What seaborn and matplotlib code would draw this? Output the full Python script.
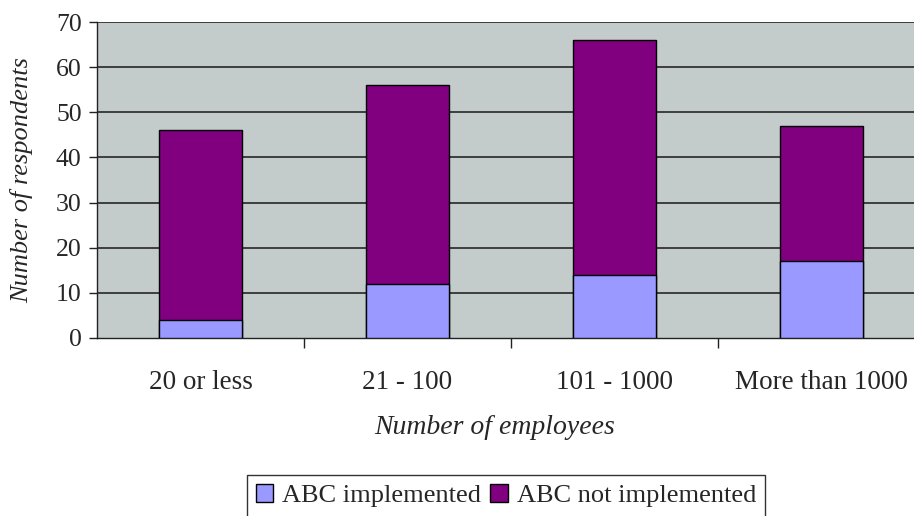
import matplotlib
matplotlib.use("Agg")
import matplotlib.pyplot as plt
from matplotlib.patches import Patch
import seaborn as sns
import pandas as pd

categories = ["20 or less", "21 - 100", "101 - 1000", "More than 1000"]
implemented = [4, 12, 14, 17]
not_implemented = [42, 44, 52, 30]

c_impl = "#9999FF"
c_not = "#800080"
bg = "#C3CBCB"

sns.set_theme(style="white")
plt.rcParams["font.family"] = ["Liberation Serif", "DejaVu Serif"]

df = pd.DataFrame({
    "size": categories,
    "impl": implemented,
    "total": [a + b for a, b in zip(implemented, not_implemented)],
})

fig = plt.figure(figsize=(9.14, 5.16), dpi=100)
ax = fig.add_axes([97 / 914, 178 / 516, 828 / 914, 316 / 516])
ax.set_facecolor(bg)

sns.barplot(data=df, x="size", y="total", color=c_not, width=0.4,
            edgecolor="black", linewidth=1.0, saturation=1, ax=ax, zorder=3)
sns.barplot(data=df, x="size", y="impl", color=c_impl, width=0.4,
            edgecolor="black", linewidth=1.0, saturation=1, ax=ax, zorder=4)

ax.set_xlim(-0.5, 3.5)
ax.set_ylim(0, 70)
ax.set_yticks(range(0, 71, 10))
for y in range(10, 71, 10):
    ax.axhline(y, color="#333333", linewidth=1.3, zorder=1)

for side in ["top", "right"]:
    ax.spines[side].set_visible(False)
ax.spines["left"].set_color("#222222")
ax.spines["bottom"].set_color("#222222")
ax.spines["left"].set_linewidth(1.0)
ax.spines["bottom"].set_linewidth(1.0)

ax.tick_params(axis="y", length=6, width=1, color="#222222", pad=5,
               labelsize=18.5, left=True)
ax.tick_params(axis="x", which="major", length=0, pad=23, labelsize=19.5)
ax.set_xticks([0.5, 1.5, 2.5], minor=True)
ax.tick_params(axis="x", which="minor", length=7, width=1, color="#222222",
               bottom=True)

ax.set_xlabel("Number of employees", fontsize=20, fontstyle="italic")
ax.set_ylabel("Number of respondents", fontsize=19, fontstyle="italic")
ax.xaxis.set_label_coords((495 - 97) / 828, (338 - 428) / 316)
ax.yaxis.set_label_coords((22 - 97) / 828, 0.5)
ax.xaxis.label.set_verticalalignment("center")
ax.yaxis.label.set_verticalalignment("center")

handles = [Patch(facecolor=c_impl, edgecolor="black", label="ABC implemented"),
           Patch(facecolor=c_not, edgecolor="black", label="ABC not implemented")]
fig.legend(handles=handles, loc="upper center",
           bbox_to_anchor=(506 / 914, 1 - 475 / 516), borderaxespad=0,
           ncol=2, frameon=True, fancybox=False, edgecolor="black",
           fontsize=19, handlelength=0.65, handleheight=0.65,
           handletextpad=0.35, columnspacing=0.35, borderpad=0.35)

fig.savefig("out.png", dpi=100)
